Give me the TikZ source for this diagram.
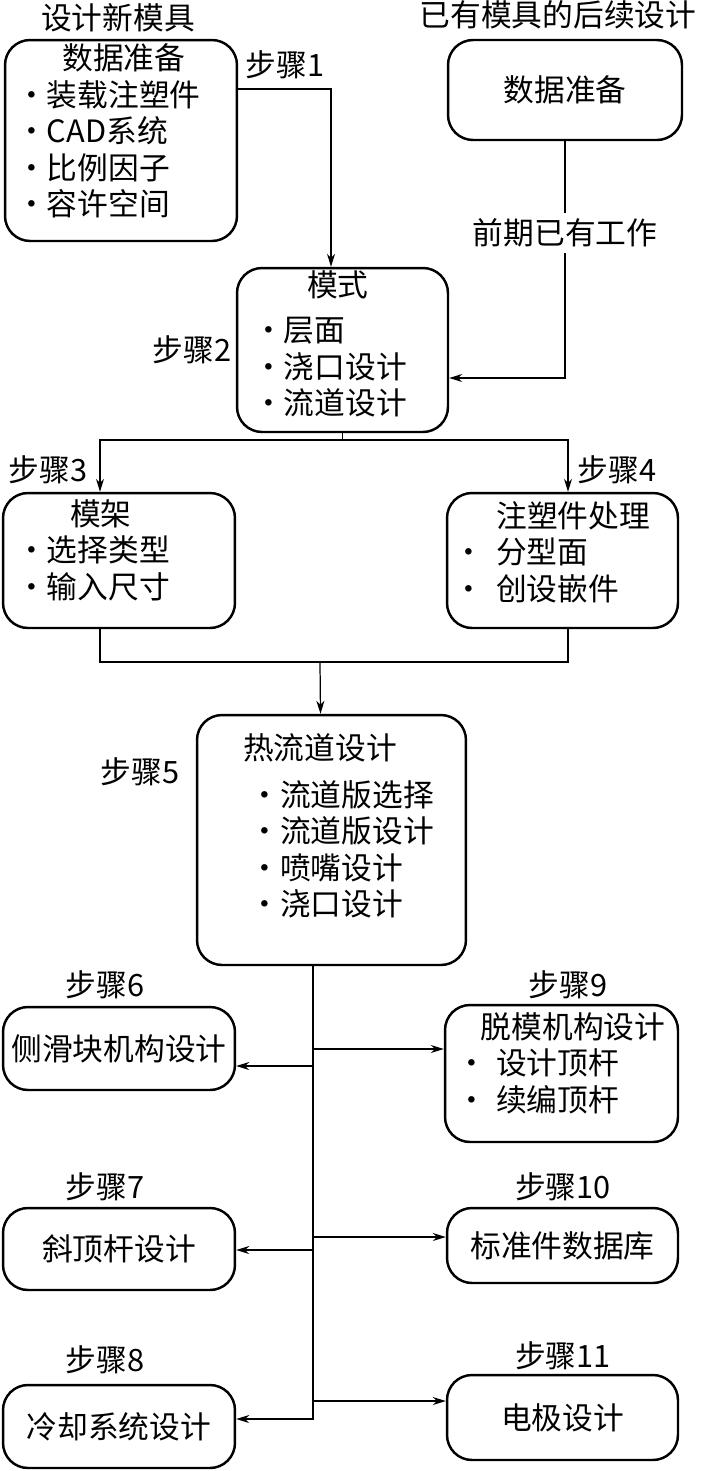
\documentclass[tikz,border=0pt]{standalone}
\usepackage{fontspec}
\setmainfont{Noto Sans CJK SC}
\usetikzlibrary{arrows.meta,positioning,calc}

\begin{document}
\begin{tikzpicture}[x=0.02cm,y=-0.02cm,
    every node/.style={font=\fontsize{17.5}{20}\selectfont},
    box/.style={rectangle,draw,rounded corners=0.5cm,line width=1.4pt,inner sep=0pt},
    arr/.style={line width=0.7pt,-{Stealth[length=2.6mm,width=1.6mm,inset=0.8mm]}},
    ln/.style={line width=0.7pt}]
    \useasboundingbox (0,0) rectangle (700,1471);

    % titles
    \node (new) at (118,18) {设计新模具};
    \node (old) at (558,15) {已有模具的后续设计};

    % data preparation
    \node[box,minimum width=4.64cm,minimum height=4.02cm] (a) at (121,140.5) {};
    \node[anchor=west] (atxt) at (10,135) {\begin{tabular}{@{}l@{}}\multicolumn{1}{c}{\hspace{1em}数据准备}\\·装载注塑件\\·CAD系统\\·比例因子\\·容许空间\end{tabular}};
    \node[box,minimum width=4.68cm,minimum height=2cm] (b) at (565,90) {数据准备};

    % pattern
    \node[box,minimum width=4.22cm,minimum height=3.28cm] (c) at (342.5,350) {};
    \node[anchor=west] (ctxt) at (247,348) {\begin{tabular}{@{}l@{}}\multicolumn{1}{c}{\hspace{0.5em}模式}\\[0.2cm]·层面\\·浇口设计\\·流道设计\end{tabular}};

    \draw[arr] ([yshift=1.03cm]a.east) -| ([xshift=-0.23cm]c.north);
    \node (s1) at (285,65) {步骤1};
    \draw[arr] (b.south) |- ([yshift=-0.56cm]c.east);
    \node[fill=white,inner xsep=1pt] (pre) at (565,233) {前期已有工作};
    \node (s2) at (192,350) {步骤2};

    % mold base and part
    \node[box,minimum width=4.64cm,minimum height=2.7cm] (d) at (119,560.5) {};
    \node[anchor=west] (dtxt) at (10,554) {\begin{tabular}{@{}l@{}}\multicolumn{1}{c}{\hspace{0.5em}模架}\\·选择类型\\·输入尺寸\end{tabular}};
    \node[box,minimum width=4.62cm,minimum height=2.7cm] (e) at (562.5,560.5) {};
    \node[anchor=west] (etxt) at (447,556) {\begin{tabular}{@{}l@{}}\hspace{1.4em}注塑件处理\\·\hspace{0.4em}分型面\\·\hspace{0.4em}创设嵌件\end{tabular}};

    \coordinate (s34) at (342.5,440);
    \draw[ln] (c.south) -- (s34);
    \draw[arr] (s34) -| ([xshift=-0.38cm]d.north);
    \draw[arr] (s34) -| ([xshift=0.11cm]e.north);
    \node (s3) at (48,470) {步骤3};
    \node (s4) at (617,470) {步骤4};

    % hot runner
    \node[box,minimum width=5.38cm,minimum height=5cm] (f) at (331.5,840) {};
    \node[anchor=west] (ftxt) at (237,830) {\begin{tabular}{@{}l@{}}热流道设计\\[0.2cm]\hspace{0.2em}·流道版选择\\\hspace{0.2em}·流道版设计\\\hspace{0.2em}·喷嘴设计\\\hspace{0.2em}·浇口设计\end{tabular}};
    \node (s5) at (140,772) {步骤5};

    \coordinate (m5) at (320,662);
    \draw[ln] ([xshift=-0.38cm]d.south) |- (m5) -| ([xshift=0.11cm]e.south);
    \draw[arr] (m5) -- ([xshift=-0.22cm]f.north);

    % sub designs
    \node[box,minimum width=4.64cm,minimum height=1.66cm] (g) at (119,1048.5) {侧滑块机构设计};
    \node[box,minimum width=4.66cm,minimum height=2.74cm] (h) at (561.5,1073.5) {};
    \node[anchor=west] (htxt) at (450,1067) {\begin{tabular}{@{}l@{}}\hspace{0.8em}脱模机构设计\\·\hspace{0.3em}设计顶杆\\·\hspace{0.3em}续编顶杆\end{tabular}};
    \node[box,minimum width=4.64cm,minimum height=1.64cm] (i) at (119,1249) {斜顶杆设计};
    \node[box,minimum width=4.62cm,minimum height=1.5cm] (j) at (562.5,1245.5) {标准件数据库};
    \node[box,minimum width=4.64cm,minimum height=1.66cm] (k) at (119,1426.5) {冷却系统设计};
    \node[box,minimum width=4.62cm,minimum height=1.7cm] (l) at (562.5,1417.5) {电极设计};

    \node (s6) at (105,985) {步骤6};
    \node (s9) at (568,985) {步骤9};
    \node (s7) at (105,1187) {步骤7};
    \node (s10) at (563,1187) {步骤10};
    \node (s8) at (105,1360) {步骤8};
    \node (s11) at (563,1356) {步骤11};

    \draw[arr] ([xshift=-0.37cm]f.south) |- ([yshift=0.15cm]k.east);
    \coordinate (b6) at (313,1066);
    \coordinate (b9) at (313,1049);
    \coordinate (b7) at (313,1250);
    \coordinate (b10) at (313,1237);
    \coordinate (b11) at (313,1401);
    \draw[arr] (b6) -- (b6 -| g.east);
    \draw[arr] (b9) -- (b9 -| h.west);
    \draw[arr] (b7) -- (b7 -| i.east);
    \draw[arr] (b10) -- (b10 -| j.west);
    \draw[arr] (b11) -- (b11 -| l.west);
\end{tikzpicture}
\end{document}
